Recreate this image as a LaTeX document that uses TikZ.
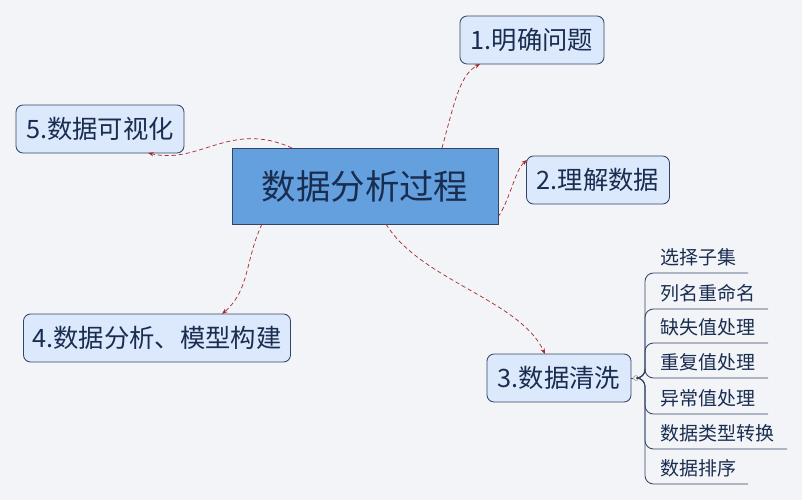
\documentclass[tikz,border=0pt]{standalone}
\usepackage{fontspec}
\setmainfont{Noto Sans CJK SC}
\usetikzlibrary{positioning,arrows.meta,calc}
\definecolor{bgcolor}{RGB}{242,244,248}
\definecolor{topiccolor}{RGB}{220,232,252}
\definecolor{centercolor}{RGB}{100,160,222}
\definecolor{edgecolor}{RGB}{50,70,100}
\definecolor{textcolor}{RGB}{25,45,80}
\definecolor{linkcolor}{RGB}{170,40,40}

\begin{document}
\begin{tikzpicture}[x=0.025cm,y=-0.025cm,
		% Node styles
		center/.style={rectangle, minimum height=76*0.025cm, minimum width=266*0.025cm,
			fill=centercolor, draw=edgecolor, line width=0.6pt, text=textcolor, font=\fontsize{24.5}{28}\selectfont},
		topic/.style={rectangle, rounded corners=5pt, minimum height=48*0.025cm,
			fill=topiccolor, draw=edgecolor, line width=0.6pt, text=textcolor, font=\fontsize{18}{21}\selectfont},
		item/.style={anchor=west, text=textcolor, font=\fontsize{13.5}{16}\selectfont, inner sep=0pt},
		% Connector styles
		link/.style={-{Stealth[length=4pt]}, densely dashed, color=linkcolor, line width=0.5pt},
		branch/.style={color=edgecolor, line width=0.6pt}
		]
		\path[fill=bgcolor] (0,0) rectangle (802,500);
		
		% Central topic
		\node[center] (main) at (365,186) {数据分析过程};
		
		% Main topics
		\node[topic, minimum width=144*0.025cm] (t1) at (532,40) {1.明确问题};
		\node[topic, minimum width=143*0.025cm] (t2) at (598,180) {2.理解数据};
		\node[topic, minimum width=144*0.025cm] (t3) at (559,378) {3.数据清洗};
		\node[topic, minimum width=267*0.025cm] (t4) at (157,338) {4.数据分析、模型构建};
		\node[topic, minimum width=168*0.025cm] (t5) at (100,129) {5.数据可视化};
		
		% Links
		\draw[link] (442,148) .. controls (455,100) and (460,75) .. (480,64);
		\draw[link] (498,217) .. controls (510,200) and (515,170) .. (527,160);
		\draw[link] (386,224) .. controls (420,280) and (520,300) .. (545,354);
		\draw[link] (262,224) .. controls (245,260) and (250,290) .. (222,314);
		\draw[link] (292,148) .. controls (230,120) and (200,165) .. (148,153);
		
		% Sub items
		\node[circle, draw=gray, fill=white, inner sep=1.2pt] (knot) at (636,378) {};
		\draw[branch] (t3.east) -- (knot);
		\foreach \name/\txt/\ty/\len [count=\i] in {s1/选择子集/257/748, s2/列名重命名/293/768, s3/缺失值处理/327/768,
			s4/重复值处理/362/768, s5/异常值处理/398/768, s6/数据类型转换/433/787, s7/数据排序/468/748} {
			\node[item] (\name) at (660,\ty) {\txt};
			\coordinate (\name u) at (\len,\ty+16);
			\draw[branch, rounded corners=6pt] (knot.east) -- (645,378) -- (645,\ty+16) -- (\name u);
		}
	\end{tikzpicture}
\end{document}
